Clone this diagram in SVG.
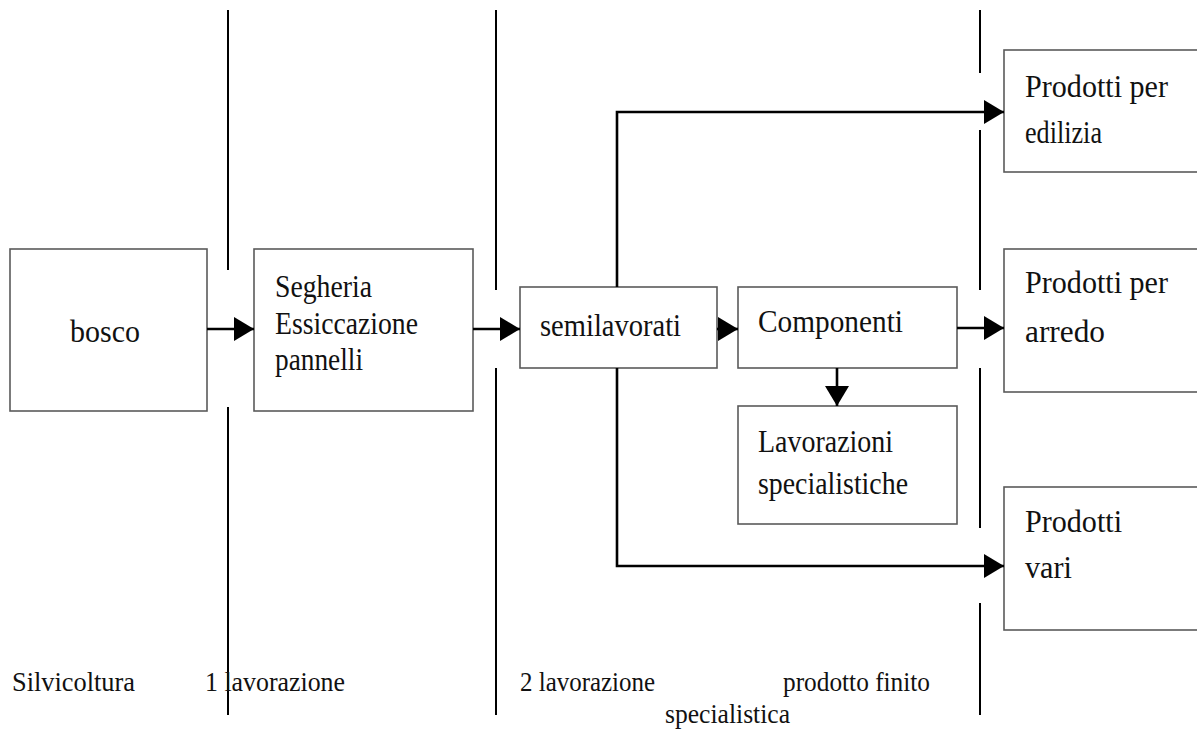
<svg xmlns="http://www.w3.org/2000/svg" width="1197" height="731" viewBox="0 0 1197 731">
<style>
.box{fill:#fff;stroke:#5a5a5a;stroke-width:1.6}
.lbl{font-family:"Liberation Serif","Times New Roman",serif;font-size:32px;fill:#111}
.bot{font-family:"Liberation Serif","Times New Roman",serif;font-size:28px;fill:#111}
.div{stroke:#000;stroke-width:2;fill:none}
.con{stroke:#000;stroke-width:2.6;fill:none}
</style>
<defs>
<marker id="ah" markerUnits="userSpaceOnUse" markerWidth="20" markerHeight="24" refX="20" refY="12" orient="auto">
<path d="M0,0 L20,12 L0,24 z" fill="#000"/>
</marker>
</defs>
<rect width="1197" height="731" fill="#fff"/>
<g id="dividers">
<path class="div" d="M228,10 V270 M228,407 V715"/>
<path class="div" d="M496,10 V290 M496,368 V715"/>
<path class="div" d="M980,10 V73 M980,130 V290 M980,368 V528 M980,603 V715"/>
</g>
<g id="bosco"><rect class="box" x="10" y="249" width="197" height="162"/><text class="lbl" x="70" y="342" textLength="70" lengthAdjust="spacingAndGlyphs">bosco</text></g>
<g id="segheria"><rect class="box" x="254" y="249" width="219" height="162"/><text class="lbl" x="275" y="297" textLength="97" lengthAdjust="spacingAndGlyphs">Segheria</text><text class="lbl" x="275" y="334" textLength="143" lengthAdjust="spacingAndGlyphs">Essiccazione</text><text class="lbl" x="275" y="370" textLength="88" lengthAdjust="spacingAndGlyphs">pannelli</text></g>
<g id="semilavorati"><rect class="box" x="520" y="287" width="197" height="81"/><text class="lbl" x="540" y="336" textLength="141" lengthAdjust="spacingAndGlyphs">semilavorati</text></g>
<g id="componenti"><rect class="box" x="738" y="287" width="219" height="81"/><text class="lbl" x="758" y="332" textLength="145" lengthAdjust="spacingAndGlyphs">Componenti</text></g>
<g id="lavorazioni"><rect class="box" x="738" y="406" width="219" height="118"/><text class="lbl" x="758" y="452" textLength="135" lengthAdjust="spacingAndGlyphs">Lavorazioni</text><text class="lbl" x="758" y="494" textLength="150" lengthAdjust="spacingAndGlyphs">specialistiche</text></g>
<g id="edilizia"><rect class="box" x="1004" y="50" width="200" height="122"/><text class="lbl" x="1025" y="97" textLength="143" lengthAdjust="spacingAndGlyphs">Prodotti per</text><text class="lbl" x="1025" y="143" textLength="77" lengthAdjust="spacingAndGlyphs">edilizia</text></g>
<g id="arredo"><rect class="box" x="1004" y="249" width="200" height="143"/><text class="lbl" x="1025" y="293" textLength="143" lengthAdjust="spacingAndGlyphs">Prodotti per</text><text class="lbl" x="1025" y="342" textLength="80" lengthAdjust="spacingAndGlyphs">arredo</text></g>
<g id="vari"><rect class="box" x="1004" y="487" width="200" height="143"/><text class="lbl" x="1025" y="532" textLength="97" lengthAdjust="spacingAndGlyphs">Prodotti</text><text class="lbl" x="1025" y="578" textLength="47" lengthAdjust="spacingAndGlyphs">vari</text></g>
<g id="connectors">
<path class="con" marker-end="url(#ah)" d="M207,329 H254"/>
<path class="con" marker-end="url(#ah)" d="M473,329 H520"/>
<path class="con" marker-end="url(#ah)" d="M717,329 H738"/>
<path class="con" marker-end="url(#ah)" d="M957,328 H1004"/>
<path class="con" marker-end="url(#ah)" d="M837,368 V406"/>
<path class="con" marker-end="url(#ah)" d="M617,287 V112 H1004"/>
<path class="con" marker-end="url(#ah)" d="M617,368 V566 H1004"/>
</g>
<g id="labels">
<text class="bot" x="12" y="691" textLength="123" lengthAdjust="spacingAndGlyphs">Silvicoltura</text>
<text class="bot" x="205" y="691" textLength="140" lengthAdjust="spacingAndGlyphs">1 lavorazione</text>
<text class="bot" x="520" y="691" textLength="135" lengthAdjust="spacingAndGlyphs">2 lavorazione</text>
<text class="bot" x="783" y="691" textLength="147" lengthAdjust="spacingAndGlyphs">prodotto finito</text>
<text class="bot" x="665" y="723" textLength="125" lengthAdjust="spacingAndGlyphs">specialistica</text>
</g>
</svg>
